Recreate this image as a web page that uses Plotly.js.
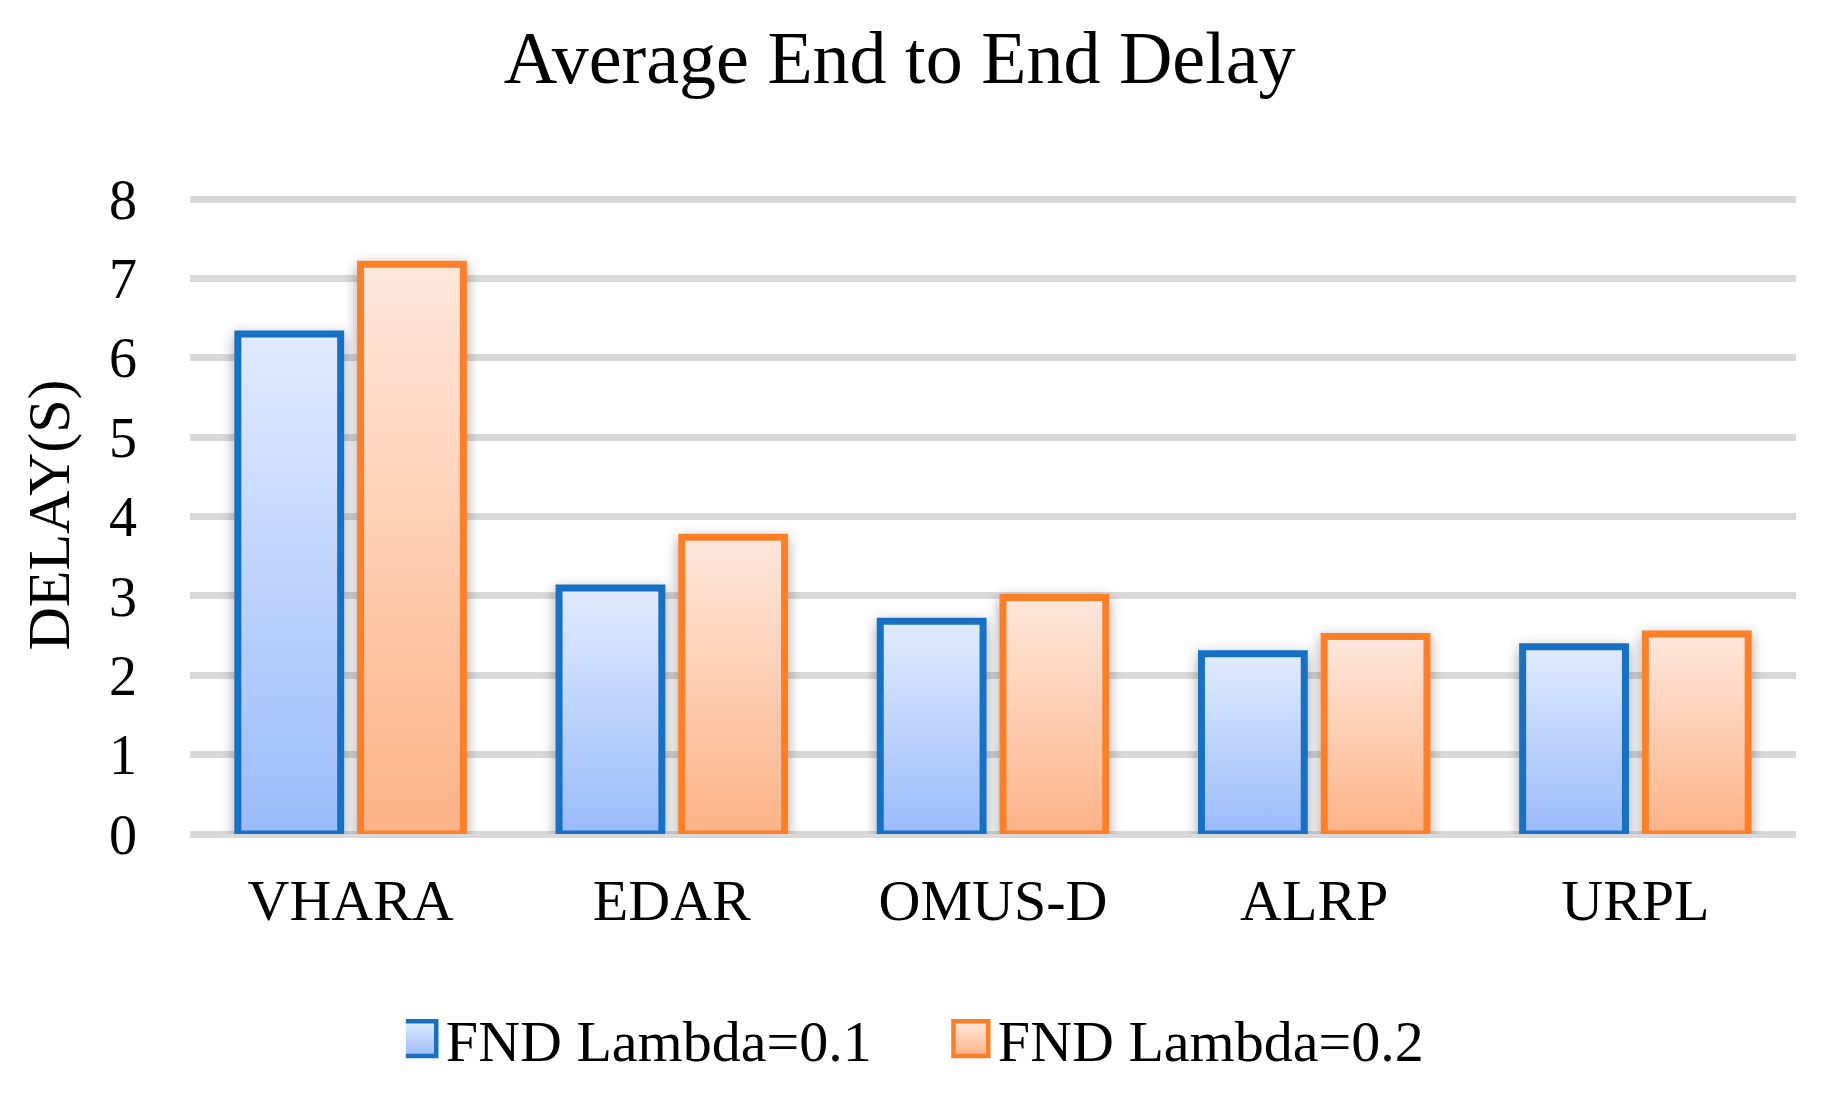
<!DOCTYPE html>
<html>
<head>
<meta charset="utf-8">
<script src="https://cdn.plot.ly/plotly-3.0.1.min.js"></script>
<style>
  html, body { margin: 0; padding: 0; background: #fff; }
  #chart { width: 1835px; height: 1096px; }
</style>
</head>
<body>
<div id="chart"></div>
<script>
const categories = ["VHARA", "EDAR", "OMUS-D", "ALRP", "URPL"];
const seriesNames = ["FND Lambda=0.1", "FND Lambda=0.2"];
const lambda01 = [6.3, 3.1, 2.68, 2.27, 2.36];
const lambda02 = [7.18, 3.74, 2.98, 2.49, 2.52];
const yTickValues = [0, 1, 2, 3, 4, 5, 6, 7, 8];

const FONT = "Liberation Serif, Times New Roman, serif";
const BLUE = "#1670C4";
const ORANGE = "#FF7E26";

const traces = [
  {
    type: "bar", name: seriesNames[0], x: categories, y: lambda01,
    marker: { color: "#BCD0FB", line: { color: BLUE, width: 7 } },
    hoverinfo: "x+y"
  },
  {
    type: "bar", name: seriesNames[1], x: categories, y: lambda02,
    marker: { color: "#FDCDB3", line: { color: ORANGE, width: 7 } },
    hoverinfo: "x+y"
  }
];

const layout = {
  width: 1835, height: 1096,
  paper_bgcolor: "#ffffff", plot_bgcolor: "#ffffff",
  margin: { l: 190, r: 39, t: 196, b: 262 },
  font: { family: FONT, color: "#000000", size: 56 },
  title: {
    text: "Average End to End Delay",
    font: { family: FONT, size: 74, color: "#000000" },
    x: 0.4903, xref: "container", xanchor: "center",
    y: 1 - 57 / 1096, yref: "container", yanchor: "middle"
  },
  barmode: "group",
  bargap: 0.236,
  bargroupgap: 0.162,
  xaxis: {
    type: "category",
    range: [-0.5, 4.5],
    showgrid: false, zeroline: false, showline: false,
    ticks: "", ticklabelstandoff: 27,
    tickfont: { family: FONT, size: 58, color: "#000000" }
  },
  yaxis: {
    range: [0, 8.04],
    tickvals: yTickValues,
    ticktext: yTickValues.map(String),
    showgrid: true, gridcolor: "#D9D9D9", gridwidth: 7,
    zeroline: true, zerolinecolor: "#D9D9D9", zerolinewidth: 7,
    showline: false, ticks: "", ticklabelstandoff: 52,
    automargin: true,
    tickfont: { family: FONT, size: 56, color: "#000000" },
    title: { text: "DELAY(S)", font: { family: FONT, size: 60, color: "#000000" }, standoff: 20 }
  },
  showlegend: true,
  legend: {
    orientation: "h",
    xref: "container", x: 0.522, xanchor: "center",
    yref: "container", y: 1 - 1039 / 1096, yanchor: "middle",
    font: { family: FONT, size: 58, color: "#000000" },
    bgcolor: "rgba(0,0,0,0)",
    entrywidth: 507,
    traceorder: "normal"
  }
};

function addGradients(gd) {
  const svg = gd.querySelector("svg.main-svg");
  const NS = "http://www.w3.org/2000/svg";
  let defs = svg.querySelector("defs#customdefs");
  if (!defs) {
    defs = document.createElementNS(NS, "defs");
    defs.setAttribute("id", "customdefs");
    defs.innerHTML =
      '<linearGradient id="gradBlue" x1="0" y1="0" x2="0" y2="1">' +
        '<stop offset="0" stop-color="#E1EBFE"/><stop offset="1" stop-color="#9ABBFA"/></linearGradient>' +
      '<linearGradient id="gradOrange" x1="0" y1="0" x2="0" y2="1">' +
        '<stop offset="0" stop-color="#FEE7DC"/><stop offset="1" stop-color="#FDB387"/></linearGradient>' +
      '<filter id="barShadow" x="-30%" y="-10%" width="160%" height="125%">' +
        '<feDropShadow dx="0" dy="4" stdDeviation="7" flood-color="#000" flood-opacity="0.35"/></filter>';
    svg.insertBefore(defs, svg.firstChild);
  }
  const grads = ["url(#gradBlue)", "url(#gradOrange)"];
  gd.querySelectorAll(".barlayer .trace").forEach((tr, i) => {
    tr.querySelectorAll("path").forEach(p => {
      p.style.fill = grads[i];
      p.setAttribute("filter", "url(#barShadow)");
    });
  });
  gd.querySelectorAll(".legend .traces").forEach((tr, i) => {
    tr.querySelectorAll(".legendpoints path").forEach(p => {
      p.style.fill = grads[i];
      p.style.strokeWidth = "4.5px";
      p.setAttribute("vector-effect", "non-scaling-stroke");
      p.setAttribute("transform", "translate(13,0) scale(2.9)");
    });
  });
}

Plotly.newPlot("chart", traces, layout, { displayModeBar: false, responsive: false }).then(addGradients);
</script>
</body>
</html>
